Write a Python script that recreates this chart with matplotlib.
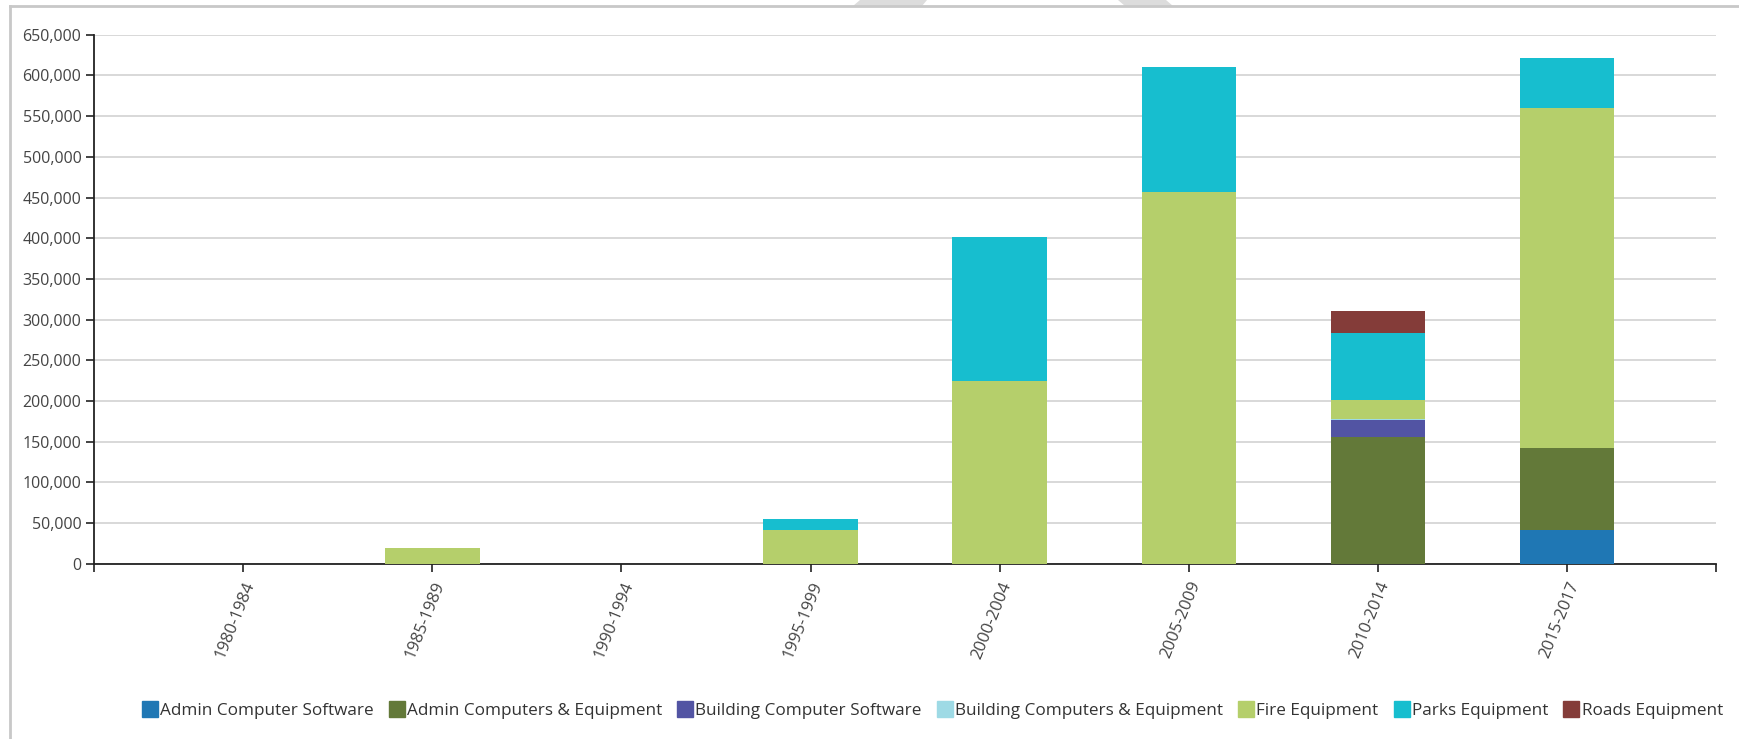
import numpy as np
import matplotlib
matplotlib.use('Agg')
import matplotlib.pyplot as plt
from matplotlib.lines import Line2D
from matplotlib.patches import Polygon
from matplotlib.ticker import FuncFormatter

plt.rcParams['font.family'] = ['Open Sans', 'DejaVu Sans']

periods = ['1980-1984', '1985-1989', '1990-1994', '1995-1999',
           '2000-2004', '2005-2009', '2010-2014', '2015-2017']

admin_software = [0, 0, 0, 0, 0, 0, 0, 42000]
admin_equipment = [0, 0, 0, 0, 0, 0, 156000, 100500]
building_software = [0, 0, 0, 0, 0, 0, 21000, 0]
building_equipment = [0, 0, 0, 0, 0, 0, 1200, 0]
fire_equipment = [0, 19000, 0, 42000, 225000, 457000, 23000, 418000]
parks_equipment = [0, 0, 0, 13500, 176000, 153000, 82500, 61500]
roads_equipment = [0, 0, 0, 0, 0, 0, 26500, 0]

series_names = ['Admin Computer Software', 'Admin Computers & Equipment',
                'Building Computer Software', 'Building Computers & Equipment',
                'Fire Equipment', 'Parks Equipment', 'Roads Equipment']
series_values = [admin_software, admin_equipment, building_software,
                 building_equipment, fire_equipment, parks_equipment,
                 roads_equipment]
colors = ['#1f77b4', '#637939', '#5254a3', '#9edae5',
          '#b5cf6b', '#17becf', '#843c39']

y_ticks = list(range(0, 650001, 50000))

fig = plt.figure(figsize=(17.39, 7.39), dpi=100)
ax = fig.add_axes([0.054, 0.237, 0.933, 0.716])

x = np.arange(len(periods))
bottom = np.zeros(len(periods))
for name, vals, c in zip(series_names, series_values, colors):
    vals = np.array(vals, dtype=float)
    ax.bar(x, vals, width=0.5, bottom=bottom, color=c, linewidth=0, zorder=3)
    bottom += vals

ax.set_xlim(-0.79, len(periods) - 1 + 0.79)
ax.set_ylim(0, 650000)
ax.set_yticks(y_ticks)
ax.yaxis.set_major_formatter(FuncFormatter(lambda v, p: f'{int(v):,}'))
ax.set_xticks(x)
ax.set_xticklabels(periods, rotation=68, ha='right', va='top',
                   rotation_mode='anchor', color='#444444', fontsize=12)
ax.set_xticks(list(ax.get_xlim()), minor=True)

ax.grid(axis='y', color='#d6d6d6', linewidth=1.3, zorder=0)
ax.set_axisbelow(True)
for s in ['top', 'right']:
    ax.spines[s].set_visible(False)
for s in ['left', 'bottom']:
    ax.spines[s].set_color('#222222')
    ax.spines[s].set_linewidth(1.3)
ax.tick_params(axis='y', length=6, width=1.2, color='#222222',
               labelcolor='#444444', labelsize=11.5, pad=3)
ax.tick_params(axis='x', which='both', length=6, width=1.2, color='#222222', pad=5)

handles = [Line2D([0], [0], marker='s', linestyle='none', markersize=11,
                  markerfacecolor=c, markeredgecolor=c) for c in colors]
fig.legend(handles, series_names, loc='center right', ncol=7,
           bbox_to_anchor=(0.9995, 0.038), frameon=False, fontsize=12.3,
           handletextpad=0.1, columnspacing=0.85, handlelength=1.0,
           labelcolor='#333333')

# page frame and tab shapes along the top edge
fig.add_artist(Line2D([10 / 1739, 10 / 1739], [0, 1 - 6 / 739],
                      color='#c8c8c8', linewidth=2, transform=fig.transFigure))
fig.add_artist(Line2D([10 / 1739, 1], [1 - 6 / 739, 1 - 6 / 739],
                      color='#c8c8c8', linewidth=2, transform=fig.transFigure))
for xs in [(860, 927, 922, 853), (1118, 1166, 1173, 1125)]:
    pts = [(xs[0] / 1739, 1), (xs[1] / 1739, 1),
           (xs[2] / 1739, 1 - 6 / 739), (xs[3] / 1739, 1 - 6 / 739)]
    fig.add_artist(Polygon(pts, closed=True, facecolor='#dcdcdc',
                           edgecolor='none', transform=fig.transFigure))

fig.savefig('out.png', dpi=100)
